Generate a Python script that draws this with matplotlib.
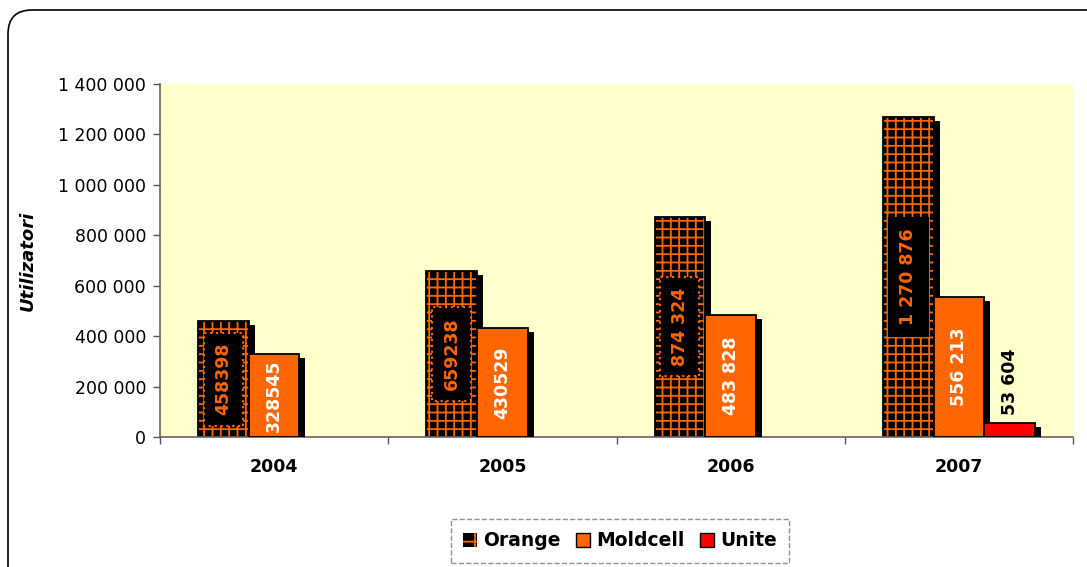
import matplotlib
matplotlib.use("Agg")
import matplotlib.pyplot as plt
import numpy as np
from matplotlib.patches import Rectangle, FancyBboxPatch, Patch
from matplotlib.transforms import ScaledTranslation
from matplotlib.ticker import FuncFormatter, FixedLocator

# ---- data ----
years = ["2004", "2005", "2006", "2007"]
orange = [458398, 659238, 874324, 1270876]
moldcell = [328545, 430529, 483828, 556213]
unite = [np.nan, np.nan, np.nan, 53604]
grouped_labels = [False, False, True, True]   # label number formatting per year
series_names = ["Orange", "Moldcell", "Unite"]
y_ticks = [0, 200000, 400000, 600000, 800000, 1000000, 1200000, 1400000]

plt.rcParams["hatch.linewidth"] = 1.3
plt.rcParams["font.family"] = ["DejaVu Sans"]

W, H, DPI = 1087, 567, 100
fig = plt.figure(figsize=(W / DPI, H / DPI), dpi=DPI)
fig.patch.set_facecolor("white")

# outer rounded frame (in inches)
frame = FancyBboxPatch((0.08, -0.3), 11.2, (H - 10 + 30) / DPI,
                       boxstyle="round,pad=0,rounding_size=0.24",
                       transform=fig.dpi_scale_trans, facecolor="none",
                       edgecolor="black", linewidth=1.2)
fig.patches.append(frame)

ax = fig.add_axes([160 / W, (H - 437) / H, (1073 - 160) / W, 353 / H])
ax.set_facecolor("#FFFFCC")

n = len(years)
x = np.arange(n)
w = 1 / 4.5
offsets = [-w, 0, w]

ORANGE = "#FF6600"
RED = "#FF0000"

shadow_tr = ax.transData + ScaledTranslation(0.06, -0.04, fig.dpi_scale_trans)

def fmt_num(v, grouped):
    s = f"{int(round(v)):,}"
    return s.replace(",", " ") if grouped else s.replace(",", "")

series = [orange, moldcell, unite]
z = 2
for si, vals in enumerate(series):
    for i, v in enumerate(vals):
        if np.isnan(v):
            continue
        left = x[i] + offsets[si] - w / 2
        # shadow
        ax.add_patch(Rectangle((left, 0), w, v, transform=shadow_tr,
                               facecolor="black", edgecolor="none", zorder=z))
        if si == 0:
            ax.add_patch(Rectangle((left, 0), w, v, facecolor="black",
                                   edgecolor=ORANGE, hatch="++", linewidth=0,
                                   zorder=z + 0.1))
            ax.add_patch(Rectangle((left, 0), w, v, facecolor="none",
                                   edgecolor="black", linewidth=1.3,
                                   zorder=z + 0.2))
        else:
            ax.add_patch(Rectangle((left, 0), w, v,
                                   facecolor=ORANGE if si == 1 else RED,
                                   edgecolor="black", linewidth=1.3,
                                   zorder=z + 0.1))
    z += 1

# data labels
for i, v in enumerate(orange):
    ls = ":" if i < 3 else "-"
    ec = ORANGE if i < 3 else "black"
    ax.text(x[i] + offsets[0], v / 2, fmt_num(v, grouped_labels[i]),
            rotation=90, ha="center", va="center", color=ORANGE,
            fontsize=12.5, fontweight="bold", zorder=10,
            bbox=dict(boxstyle="square,pad=0.6", facecolor="black",
                      edgecolor=ec, linestyle=ls, linewidth=1.6))
for i, v in enumerate(moldcell):
    ax.text(x[i] + offsets[1], v / 2, fmt_num(v, grouped_labels[i]),
            rotation=90, ha="center", va="center", color="white",
            fontsize=12.5, fontweight="bold", zorder=10, clip_on=True)
for i, v in enumerate(unite):
    if np.isnan(v):
        continue
    ax.annotate(fmt_num(v, grouped_labels[i]), (x[i] + offsets[2], v),
                xytext=(0, 8), textcoords="offset pixels",
                rotation=90, ha="center", va="bottom", color="black",
                fontsize=12.5, fontweight="bold", zorder=10)

ax.set_xlim(-0.5, n - 0.5)
ax.set_ylim(0, 1400000)
ax.set_yticks(y_ticks)
ax.yaxis.set_major_formatter(FuncFormatter(lambda v, p: f"{int(v):,}".replace(",", " ")))
ax.set_xticks(x)
ax.set_xticklabels(years, fontsize=12.5, fontweight="bold")
ax.xaxis.set_minor_locator(FixedLocator(np.arange(n + 1) - 0.5))
ax.tick_params(axis="x", which="major", length=0, pad=15)
ax.tick_params(axis="x", which="minor", length=5, color="#555555", width=1)
ax.tick_params(axis="y", length=5, color="#555555", width=1, labelsize=12.5, pad=5)

for s in ["top", "right"]:
    ax.spines[s].set_visible(False)
for s in ["left", "bottom"]:
    ax.spines[s].set_color("#666666")
    ax.spines[s].set_linewidth(1.2)

ax.set_ylabel("Utilizatori", fontsize=13, fontweight="bold", fontstyle="italic")
ax.yaxis.set_label_coords(-0.135, 0.5)

# legend
handles = [
    Patch(facecolor="black", edgecolor=ORANGE, hatch="+", linewidth=0),
    Patch(facecolor=ORANGE, edgecolor="black", linewidth=1),
    Patch(facecolor=RED, edgecolor="black", linewidth=1),
]
leg = fig.legend(handles, series_names, loc="center",
                 bbox_to_anchor=(620 / W, 1 - 541 / H), ncol=3,
                 prop=dict(size=13.5, weight="bold"), frameon=True,
                 fancybox=False, handlelength=0.75, handleheight=0.75,
                 handletextpad=0.35, columnspacing=0.8, borderpad=0.65,
                 borderaxespad=0)
leg.get_frame().set_edgecolor("#777777")
leg.get_frame().set_linestyle("--")
leg.get_frame().set_linewidth(1.0)

fig.savefig("out.png", dpi=DPI)
